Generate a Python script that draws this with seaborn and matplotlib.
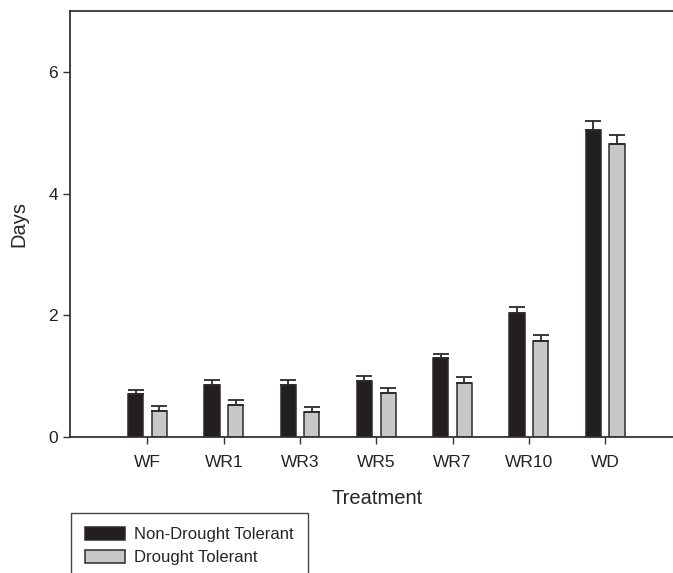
import numpy as np
import pandas as pd
import matplotlib
matplotlib.use("Agg")
import matplotlib.pyplot as plt
import seaborn as sns

# datos
treatments = ["WF", "WR1", "WR3", "WR5", "WR7", "WR10", "WD"]
groups = ["Non-Drought Tolerant", "Drought Tolerant"]
nondt_mean = [0.71, 0.86, 0.85, 0.92, 1.29, 2.03, 5.04]
nondt_err = [0.07, 0.07, 0.08, 0.09, 0.08, 0.11, 0.16]
dt_mean = [0.43, 0.53, 0.41, 0.72, 0.88, 1.58, 4.81]
dt_err = [0.08, 0.08, 0.08, 0.09, 0.10, 0.10, 0.16]

colors = ["#231f20", "#c8c8c8"]
edge = "#2b2b2b"

df = pd.DataFrame({
    "Treatment": treatments * 2,
    "Days": nondt_mean + dt_mean,
    "group": [groups[0]] * len(treatments) + [groups[1]] * len(treatments),
})

sns.set_style("ticks")
plt.rcParams["font.family"] = ["Liberation Sans", "DejaVu Sans"]

fig = plt.figure(figsize=(6.73, 5.73), dpi=100)
ax = fig.add_axes([70 / 673, 1 - 437 / 573, 1 - 70 / 673, (437 - 11) / 573])

sns.barplot(data=df, x="Treatment", y="Days", hue="group", hue_order=groups,
            order=treatments, palette=colors, saturation=1, errorbar=None,
            width=0.62, gap=0.36, edgecolor=edge, linewidth=1.1,
            legend=False, ax=ax)

# barras de error (solo hacia arriba)
for cont, means, errs in zip(ax.containers, [nondt_mean, dt_mean], [nondt_err, dt_err]):
    xs = [p.get_x() + p.get_width() / 2 for p in cont.patches]
    ax.errorbar(xs, means, yerr=[np.zeros(len(errs)), errs], fmt="none",
                ecolor=edge, elinewidth=1.3, capsize=6, capthick=1.3, zorder=1)

ax.set_xlim(-1.016, 6.89)
ax.set_ylim(0, 7)
ax.set_yticks([0, 2, 4, 6])
ax.set_xlabel("Treatment", fontsize=14.5)
ax.set_ylabel("Days", fontsize=14.5)
ax.xaxis.set_label_coords((377 - 70) / 603, -(489 - 437) / 426)
ax.yaxis.set_label_coords(-(70 - 28) / 603, 0.5)
ax.tick_params(axis="both", labelsize=12.5, length=5, width=1, color="#333333",
               labelcolor="#222222", direction="out")
ax.tick_params(axis="x", pad=8)

for s in ["left", "bottom", "top"]:
    ax.spines[s].set_color("#333333")
    ax.spines[s].set_linewidth(1.3)
ax.spines["right"].set_visible(False)

fig.legend(ax.containers, groups, loc="upper left",
           bbox_to_anchor=(71 / 673, 1 - 513 / 573), borderaxespad=0,
           fontsize=12, frameon=True, fancybox=False, edgecolor="#444444",
           framealpha=1, handlelength=2.4, handleheight=0.8, handletextpad=0.55,
           labelspacing=0.45, borderpad=0.85)

fig.savefig("out.png", dpi=100)
